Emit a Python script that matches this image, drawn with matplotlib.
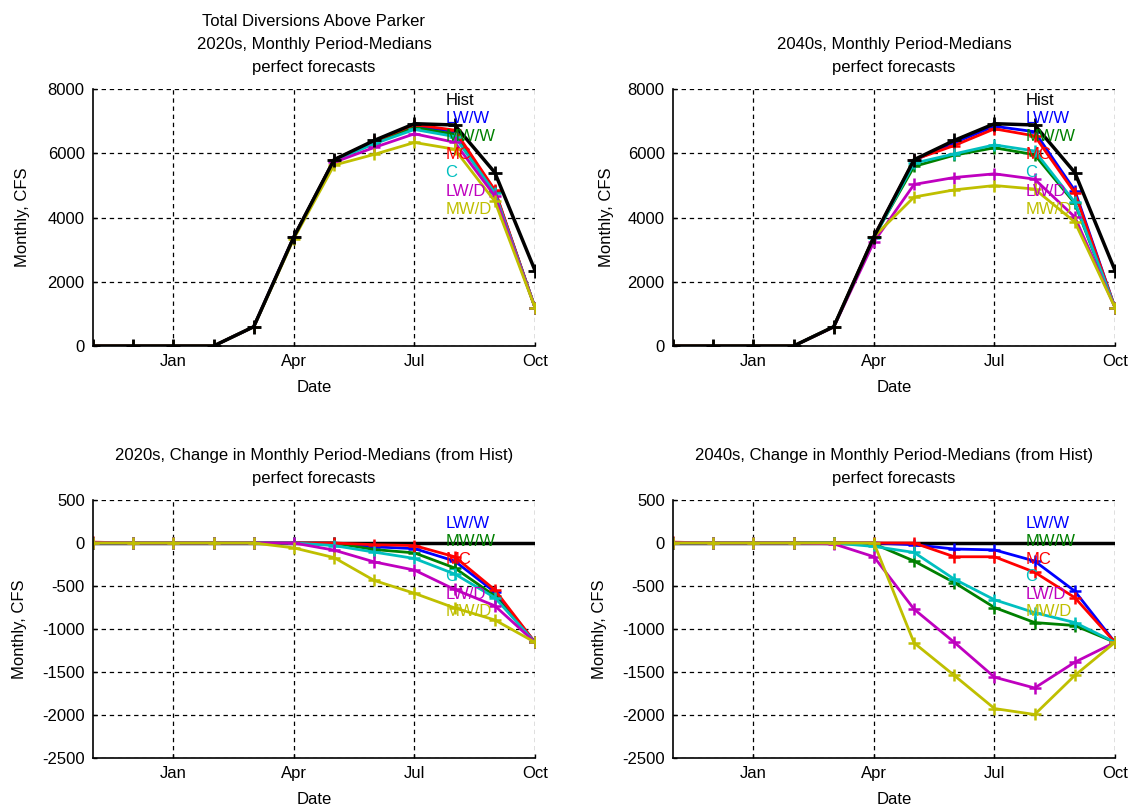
#!/usr/bin/env python3
"""
Total diversions above Parker: monthly period-medians for the 2020s and 2040s
climate scenarios, and their change from the historical medians.
"""
import matplotlib
matplotlib.use('Agg')
import matplotlib.pyplot as plt
import numpy as np

plt.rcParams['font.family'] = ['Liberation Sans', 'DejaVu Sans']
plt.rcParams['font.size'] = 12
plt.rcParams['axes.unicode_minus'] = False

# Month-end points of the water year (Oct ... Sep)
months = np.arange(12)
tick_pos = [2, 5, 8, 11]
tick_labels = ['Jan', 'Apr', 'Jul', 'Oct']

scenario_names = ['LW/W', 'MW/W', 'MC', 'C', 'LW/D', 'MW/D']
scenario_colors = [(0, 0, 1), (0, 0.5, 0), (1, 0, 0),
                   (0, 0.75, 0.75), (0.75, 0, 0.75), (0.75, 0.75, 0)]

# Monthly period-medians, CFS
hist = [0, 0, 0, 0, 600, 3400, 5800, 6400, 6920, 6880, 5400, 2350]

med_2020s = {
    'LW/W': [0, 0, 0, 0, 600, 3400, 5800, 6355, 6855, 6670, 4830, 1195],
    'MW/W': [0, 0, 0, 0, 600, 3400, 5800, 6324, 6805, 6590, 4785, 1195],
    'MC':   [10, 0, 0, 0, 600, 3400, 5800, 6380, 6890, 6720, 4855, 1195],
    'C':    [0, 0, 0, 0, 600, 3400, 5770, 6294, 6740, 6520, 4765, 1195],
    'LW/D': [0, 0, 0, 0, 600, 3400, 5717, 6180, 6605, 6340, 4670, 1195],
    'MW/D': [0, 0, 0, 0, 600, 3343, 5630, 5964, 6335, 6125, 4505, 1195],
}

med_2040s = {
    'LW/W': [0, 0, 0, 0, 600, 3400, 5780, 6330, 6840, 6670, 4840, 1195],
    'MW/W': [0, 0, 0, 0, 600, 3390, 5590, 5940, 6170, 5955, 4440, 1195],
    'MC':   [10, 0, 0, 0, 600, 3400, 5800, 6240, 6760, 6540, 4765, 1195],
    'C':    [0, 0, 0, 0, 600, 3360, 5690, 5980, 6260, 6070, 4475, 1195],
    'LW/D': [0, 0, 0, 0, 590, 3240, 5030, 5245, 5360, 5194, 4014, 1195],
    'MW/D': [0, 0, 0, 0, 600, 3400, 4638, 4860, 4995, 4886, 3860, 1195],
}

LINE_KW = dict(lw=2, marker='+', ms=9, mew=1.8)


def style_axes(ax, yticks):
    ax.set_xlim(0, 11)
    ax.set_xticks(tick_pos)
    ax.set_xticklabels(tick_labels)
    ax.set_yticks(yticks)
    ax.set_ylim(yticks[0], yticks[-1])
    ax.spines['top'].set_visible(False)
    ax.spines['right'].set_visible(False)
    ax.spines['left'].set_linewidth(1.2)
    ax.spines['bottom'].set_linewidth(1.2)
    ax.grid(True, color='black', linestyle=(0, (3.5, 3)), linewidth=0.9)
    ax.tick_params(direction='in', length=3, width=1, pad=6,
                   top=False, right=False)
    ax.set_xlabel('Date')
    ax.set_ylabel('Monthly, CFS')


def label_block(ax, names, colors, y0, step):
    for i, (name, col) in enumerate(zip(names, colors)):
        ax.text(0.797, y0 - i * step, name, color=col, transform=ax.transAxes,
                ha='left', va='center', fontsize=12)


fig = plt.figure(figsize=(11.31, 8.07), dpi=100)
W, H = 1131.0, 807.0

def axes_px(left, top, right, bottom):
    return fig.add_axes([left / W, 1 - bottom / H, (right - left) / W, (bottom - top) / H])

ax_tl = axes_px(93, 89, 535, 346)
ax_tr = axes_px(673, 89, 1115, 346)
ax_bl = axes_px(93, 500, 535, 758)
ax_br = axes_px(673, 500, 1115, 758)

titles_top = ['Total Diversions Above Parker\n2020s, Monthly Period-Medians\nperfect forecasts',
              '2040s, Monthly Period-Medians\nperfect forecasts']
titles_bot = ['2020s, Change in Monthly Period-Medians (from Hist)\nperfect forecasts',
              '2040s, Change in Monthly Period-Medians (from Hist)\nperfect forecasts']

for ax_med, ax_chg, meds, t_med, t_chg in [(ax_tl, ax_bl, med_2020s, titles_top[0], titles_bot[0]),
                                           (ax_tr, ax_br, med_2040s, titles_top[1], titles_bot[1])]:
    # Period-medians
    for name, col in zip(scenario_names, scenario_colors):
        ax_med.plot(months, meds[name], color=col, **LINE_KW)
    ax_med.plot(months, hist, color='black', lw=2.5, marker='+', ms=10, mew=2)
    style_axes(ax_med, [0, 2000, 4000, 6000, 8000])
    ax_med.set_title(t_med, fontsize=12, linespacing=1.7, pad=12)
    label_block(ax_med, ['Hist'] + scenario_names, ['black'] + scenario_colors,
                0.957, 0.0708)

    # Change from historical
    ax_chg.plot(months, np.zeros(12), color='black', lw=2.5)
    for name, col in zip(scenario_names, scenario_colors):
        change = np.array(meds[name]) - np.array(hist)
        ax_chg.plot(months, change, color=col, **LINE_KW)
    style_axes(ax_chg, [-2500, -2000, -1500, -1000, -500, 0, 500])
    ax_chg.set_title(t_chg, fontsize=12, linespacing=1.7, pad=12)
    label_block(ax_chg, scenario_names, scenario_colors, 0.907, 0.068)

for ax in (ax_tl, ax_tr, ax_bl, ax_br):
    ax.xaxis.set_label_coords(0.5, -0.133)
ax_tl.yaxis.set_label_coords(-0.142, 0.5)
ax_tr.yaxis.set_label_coords(-0.133, 0.5)
ax_bl.yaxis.set_label_coords(-0.15, 0.5)
ax_br.yaxis.set_label_coords(-0.15, 0.5)

fig.savefig('out.png', dpi=100)
